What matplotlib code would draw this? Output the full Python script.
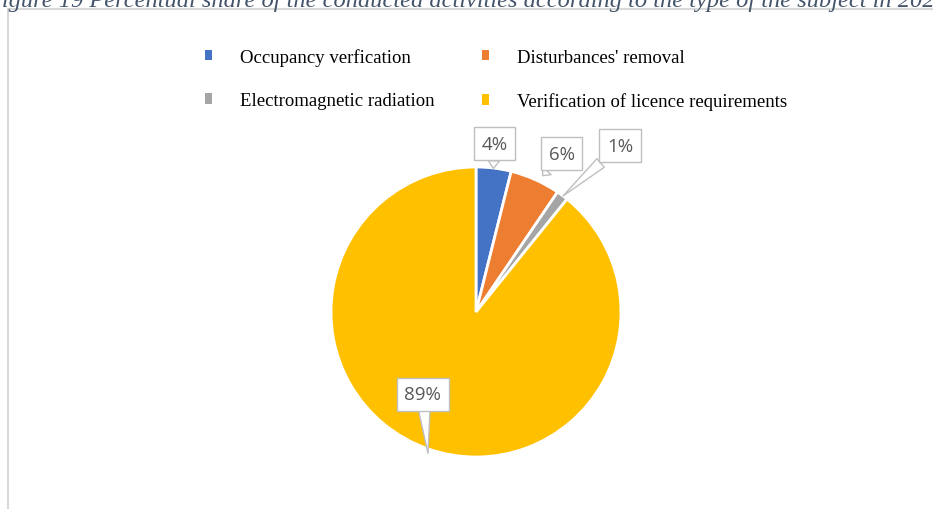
import matplotlib.pyplot as plt
from matplotlib.patches import Patch

# activity shares (percent)
activities = ['Occupancy verfication', "Disturbances' removal",
              'Electromagnetic radiation', 'Verification of licence requirements']
shares = [3.9, 5.6, 1.3, 89.2]
colors = ['#4472C4', '#ED7D31', '#A5A5A5', '#FFC000']

# where each callout sits (text pos, tip pos) in pie units
label_text_pos = [(0.13, 1.16), (0.593, 1.09), (0.993, 1.145), (-0.366, -0.566)]
label_tip_pos = [(0.12, 0.99), (0.46, 0.94), (0.60, 0.80), (-0.331, -0.975)]

title = ('Figure 19 Percentual share of the conducted activities according '
         'to the type of the subject in 2021')

W, H = 933, 510
fig = plt.figure(figsize=(W / 100, H / 100), dpi=100)

# chart area starts at px (8, 10); pie centre (476, 313), radius 145 px
x0, y0 = 8, 10
cx, cy, R = 476, 313, 145
ax = fig.add_axes([x0 / W, 0, 1 - x0 / W, 1 - y0 / H])

wedges, _ = ax.pie(shares, colors=colors, startangle=90, counterclock=False,
                   radius=1.0, wedgeprops=dict(edgecolor='white', linewidth=2))
ax.set_aspect('auto')
ax.set_xlim((x0 - cx) / R, (W - cx) / R)
ax.set_ylim((cy - H) / R, (cy - y0) / R)

for s, tp, tip in zip(shares, label_text_pos, label_tip_pos):
    ax.annotate(f'{round(s)}%', xy=tip, xytext=tp, ha='center', va='center',
                fontsize=13.5, color='#595959', family='Open Sans',
                bbox=dict(boxstyle='square,pad=0.4', fc='white', ec='#BFBFBF', lw=1),
                arrowprops=dict(arrowstyle='wedge,tail_width=0.6,shrink_factor=0.5',
                                fc='white', ec='#BFBFBF', lw=1, shrinkA=0, shrinkB=0),
                annotation_clip=False)

ax.set_frame_on(True)
for side in ['right', 'bottom']:
    ax.spines[side].set_visible(False)
for side in ['left', 'top']:
    ax.spines[side].set_visible(True)
    ax.spines[side].set_color('#D9D9D9')
    ax.spines[side].set_linewidth(1.5)
ax.set_xticks([])
ax.set_yticks([])

# legend fills column-wise, so reorder to read row by row
order = [0, 2, 1, 3]
handles = [Patch(facecolor=colors[i], edgecolor='none') for i in order]
labels = [activities[i] for i in order]
leg = fig.legend(handles, labels, ncol=2, loc='upper left',
                 bbox_to_anchor=(188 / W, 1 - 32 / H), frameon=False,
                 prop=dict(family='Liberation Serif', size=13.5),
                 handlelength=0.37, handleheight=0.5, handletextpad=1.5,
                 labelspacing=1.4, columnspacing=2.55)

fig.text(-0.014, 1 - 7 / H, title, fontsize=17.6, style='italic',
         family='Liberation Serif', color='#44546A', va='baseline', ha='left')

fig.savefig('out.png', dpi=100)
